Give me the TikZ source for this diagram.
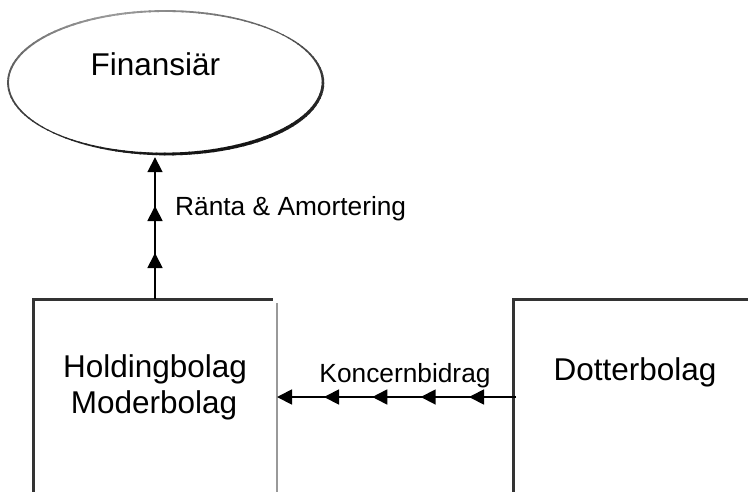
\documentclass[tikz,border=0pt]{standalone}
\usepackage{fontspec}
\setmainfont{Liberation Sans}
\usetikzlibrary{shapes.geometric,arrows.meta,decorations.markings}

\begin{document}
\begin{tikzpicture}[x=1pt,y=-1pt,
  flowtip/.tip={Triangle[length=15pt,width=15pt]},
  flow/.style={line width=1.8pt, -flowtip},
  edgedark/.style={line width=3pt, color=black!80},
  edgelight/.style={line width=2pt, color=black!40},
  bigtext/.style={font=\fontsize{31.5}{36}\selectfont, inner sep=0pt},
  smalltext/.style={font=\fontsize{26.3}{30}\selectfont, inner sep=0pt},
  area/.style={rectangle, inner sep=0pt, outer sep=0pt, minimum width=244pt, minimum height=196pt},
]
\useasboundingbox (0,0) rectangle (748,491);
\clip (0,0) rectangle (748,491);

% Financier: ellipse with a bevelled, shaded outline
\node[ellipse, inner sep=0pt, minimum width=315pt, minimum height=143pt] (fin) at (165.5,82.5) {};
\foreach \a in {0,3,...,357}{
  \pgfmathsetmacro\cd{cos(\a-70)}
  \pgfmathsetmacro\cw{cos(\a-45)}
  \pgfmathsetmacro\dk{40+52*((1+\cd)/2)^0.6}
  \pgfmathsetmacro\lw{1.1+abs(\cw)*(1.6+0.8*\cw)}
  \draw[line width=\lw pt, color=black!\dk]
    ({165.5+157.5*cos(\a)},{82.5+71.5*sin(\a)})
    arc[start angle=\a, end angle=\a+3.6, x radius=157.5, y radius=71.5];
}
\node[bigtext, anchor=base] (fintxt) at (155.3,75) {Finansiär};

% Holding company box (open at the bottom)
\node[area] (hold) at (155,397) {};
\draw[edgedark] (hold.south west) -- (hold.north west) -- ([xshift=-4pt]hold.north east);
\draw[edgelight] ([yshift=-4pt]hold.north east) -- (hold.south east);
\node[bigtext, anchor=base] (holdtxt) at (155,377) {Holdingbolag};
\node[bigtext, anchor=base] (modtxt) at (154,413) {Moderbolag};

% Subsidiary box
\node[area] (dot) at (635,397) {};
\draw[edgedark] (dot.south west) -- (dot.north west) -- (dot.north east);
\node[bigtext, anchor=base] (dottxt) at (635,380) {Dotterbolag};

% Interest and repayment to the financier
\draw[flow, shorten >=3pt, postaction={decorate}, decoration={markings,
    mark=at position 46pt with {\arrow{flowtip}},
    mark=at position 93pt with {\arrow{flowtip}}}]
  (hold.north) -- (fin.south -| hold.north);
\node[smalltext, anchor=base west] (ranta) at (175,215) {Ränta \& Amortering};

% Group contribution from the subsidiary
\draw[flow, postaction={decorate}, decoration={markings,
    mark=at position 47pt with {\arrow{flowtip}},
    mark=at position 95.3pt with {\arrow{flowtip}},
    mark=at position 143.7pt with {\arrow{flowtip}},
    mark=at position 192pt with {\arrow{flowtip}}}]
  ([xshift=3pt]dot.west) -- (hold.east);
\node[smalltext, anchor=base] (kb) at (405,382) {Koncernbidrag};
\end{tikzpicture}
\end{document}
